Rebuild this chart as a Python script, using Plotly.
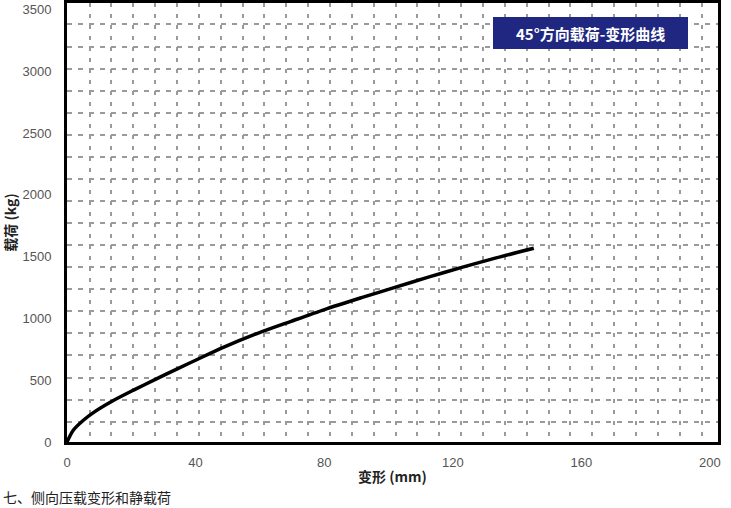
import plotly.graph_objects as go

# Data
deformation_mm = [0, 2.0, 5.1, 8.2, 14.0, 20.7, 27.5, 34.3, 40.5, 48.8, 59.3, 69.7, 80.1, 91.6, 102.0, 112.4, 122.8, 133.2, 145.2]
load_kg = [0, 97, 176, 238, 330, 420, 507, 592, 668, 768, 880, 977, 1072, 1168, 1252, 1334, 1413, 1488, 1568]

x_ticks = [0, 40, 80, 120, 160, 200]
y_ticks = [0, 500, 1000, 1500, 2000, 2500, 3000, 3500]

title_box_text = "45°方向载荷-变形曲线"
x_title = "变形 (mm)"
y_title = "载荷 (kg)"
caption = "七、侧向压载变形和静载荷"

W, H = 731, 508
L, R, T, B = 67, 13, 3, 66
pw, ph = W - L - R, H - T - B

def px_x(p):
    return (p - L) / pw

def px_y(p):
    return (H - B - p) / ph

fig = go.Figure()
fig.add_trace(go.Scatter(
    x=deformation_mm, y=load_kg, mode="lines",
    line=dict(color="black", width=3.5, shape="spline", smoothing=0.8),
    showlegend=False, hoverinfo="skip"))

grid_col = "#9a9a9a"
tick_font = dict(family="Liberation Sans, Arial, sans-serif", size=13, color="#555555")
title_font = dict(family="Noto Sans CJK SC, Liberation Sans, sans-serif", size=14, color="#222222")

fig.update_layout(
    width=W, height=H,
    margin=dict(l=L, r=R, t=T, b=B, autoexpand=False),
    paper_bgcolor="white", plot_bgcolor="white",
    xaxis=dict(
        range=[0, 202.5], tickmode="array", tickvals=x_ticks,
        ticktext=[str(v) for v in x_ticks], tickfont=tick_font,
        showgrid=False, zeroline=False, ticks="", automargin=False,
        showline=True, mirror=True, linecolor="black", linewidth=3,
        ticklabelstandoff=6,
        minor=dict(tick0=0.2, dtick=6.8, showgrid=True, gridcolor=grid_col,
                   gridwidth=1.6, griddash="4px,7px"),
        title=dict(text="<b>" + x_title + "</b>", font=title_font, standoff=4),
    ),
    yaxis=dict(
        range=[0, 3553], tickmode="array", tickvals=y_ticks,
        ticktext=[str(v) for v in y_ticks], tickfont=tick_font,
        showgrid=False, zeroline=False, ticks="", automargin=False,
        showline=True, mirror=True, linecolor="black", linewidth=3,
        ticklabelstandoff=10,
        minor=dict(tick0=-14, dtick=178.6, showgrid=True, gridcolor=grid_col,
                   gridwidth=1.6, griddash="5px,6px"),
        title=dict(text="<b>" + y_title + "</b>", font=title_font, standoff=8),
    ),
    shapes=[dict(type="rect", xref="paper", yref="paper",
                 x0=px_x(493), x1=px_x(688), y0=px_y(49), y1=px_y(17),
                 fillcolor="#1f2781", line=dict(width=0), layer="above")],
    annotations=[
        dict(text="<b>" + title_box_text + "</b>", xref="paper", yref="paper",
             x=px_x(590), y=px_y(33), xanchor="center", yanchor="middle",
             showarrow=False,
             font=dict(family="Noto Sans CJK SC, sans-serif", size=15, color="white")),
        dict(text=caption, xref="paper", yref="paper",
             x=px_x(1), y=px_y(497), xanchor="left", yanchor="middle",
             showarrow=False,
             font=dict(family="Noto Sans CJK SC, sans-serif", size=14, color="#222222")),
    ],
)

fig.write_html("out.html", config={"displayModeBar": False},
               post_script="document.body.style.margin='0';document.body.style.padding='0';document.body.style.overflow='hidden';")
